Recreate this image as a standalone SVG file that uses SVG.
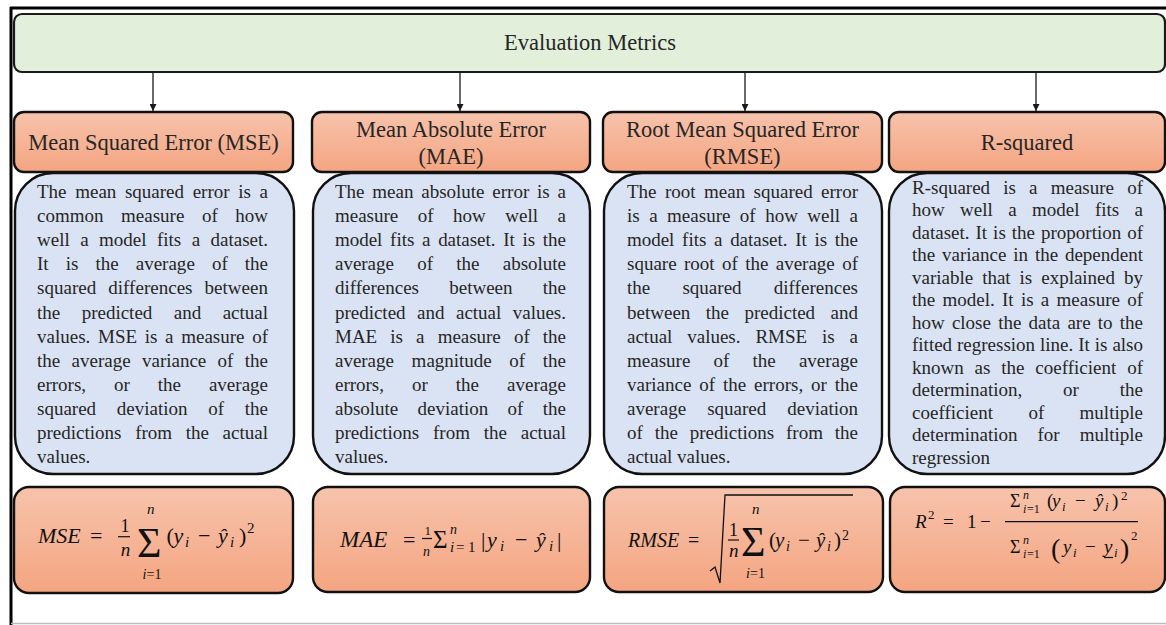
<svg xmlns="http://www.w3.org/2000/svg" width="1166" height="625" viewBox="0 0 1166 625">
<defs>
<linearGradient id="og" x1="0" y1="0" x2="0" y2="1"><stop offset="0" stop-color="#f7c3ac"/><stop offset="1" stop-color="#f4a581"/></linearGradient>
<marker id="ah" viewBox="0 0 8 8" refX="8" refY="4" markerWidth="7" markerHeight="7" markerUnits="userSpaceOnUse" orient="auto"><path d="M0,0 L8,4 L0,8 z" fill="#1a1a1a"/></marker>
</defs>
<style>
.frame{stroke:#000;stroke-width:3;fill:none}
.grn{fill:#e2efda;stroke:#1a1a1a;stroke-width:2.2}
.hdr{fill:url(#og);stroke:#111;stroke-width:2.4}
.body{fill:#dae3f3;stroke:#111;stroke-width:2.4}
.t{font-family:"Liberation Serif","Times New Roman",serif;fill:#262626}
.ht{font-size:22.5px;text-anchor:middle}
.bt{font-size:19px}
.m{font-family:"Liberation Serif","Times New Roman",serif;fill:#111}
.i{font-style:italic}
.conn{stroke:#1a1a1a;stroke-width:1.3;fill:none}
.bar{stroke:#111;stroke-width:1.2}
</style>
<rect width="1166" height="625" fill="#fff"/>
<g id="frame">
<line class="frame" x1="10" y1="8" x2="1166" y2="8"/>
<line class="frame" x1="11" y1="7" x2="11" y2="625"/>
<line x1="11" y1="623.5" x2="1166" y2="623.5" stroke="#bdbdbd" stroke-width="1.5"/>
</g>
<g id="connectors">
<line class="conn" x1="153" y1="72" x2="153" y2="111" marker-end="url(#ah)"/>
<line class="conn" x1="460" y1="72" x2="460" y2="111" marker-end="url(#ah)"/>
<line class="conn" x1="745" y1="72" x2="745" y2="111" marker-end="url(#ah)"/>
<line class="conn" x1="1036" y1="72" x2="1036" y2="111" marker-end="url(#ah)"/>
</g>
<g id="root">
<rect class="grn" x="14" y="14" width="1151" height="58" rx="8"/>
<text class="t ht" x="590" y="50">Evaluation Metrics</text>
</g>
<g id="mse">
<rect class="hdr" x="14" y="112" width="279" height="60" rx="10"/>
<text class="t ht" x="153.5" y="150">Mean Squared Error (MSE)</text>
<rect class="body" x="15" y="173" width="279" height="301" rx="38"/>
<g class="t bt">
<text x="37" y="198" textLength="231" lengthAdjust="spacing" style="word-spacing:3.9px">The mean squared error is a</text>
<text x="37" y="222" textLength="231" lengthAdjust="spacing" style="word-spacing:12.8px">common measure of how</text>
<text x="37" y="246" textLength="231" lengthAdjust="spacing" style="word-spacing:5.7px">well a model fits a dataset.</text>
<text x="37" y="270" textLength="231" lengthAdjust="spacing" style="word-spacing:12.3px">It is the average of the</text>
<text x="37" y="294" textLength="231" lengthAdjust="spacing" style="word-spacing:7.3px">squared differences between</text>
<text x="37" y="318.5" textLength="231" lengthAdjust="spacing" style="word-spacing:16.7px">the predicted and actual</text>
<text x="37" y="342.5" textLength="231" lengthAdjust="spacing" style="word-spacing:2.9px">values. MSE is a measure of</text>
<text x="37" y="366.5" textLength="231" lengthAdjust="spacing" style="word-spacing:6.6px">the average variance of the</text>
<text x="37" y="391" textLength="231" lengthAdjust="spacing" style="word-spacing:23.2px">errors, or the average</text>
<text x="37" y="415" textLength="231" lengthAdjust="spacing" style="word-spacing:16px">squared deviation of the</text>
<text x="37" y="439" textLength="231" lengthAdjust="spacing" style="word-spacing:8.9px">predictions from the actual</text>
<text x="37" y="463">values.</text>
</g>
<rect class="hdr" x="14" y="487" width="279" height="106" rx="15"/>
<line class="bar" x1="118" y1="536.7" x2="130" y2="536.7"/>
<text class="m" y="543" font-size="22"><tspan x="38" class="i">MSE</tspan><tspan x="90">=</tspan><tspan x="120.5" y="532" font-size="18">1</tspan><tspan x="120.7" y="556" font-size="19" class="i">n</tspan><tspan x="137" y="557" font-size="42">Σ</tspan><tspan x="147" y="514" font-size="15" class="i">n</tspan><tspan x="142.5" y="579" font-size="14" class="i">i</tspan><tspan x="146.5" y="579" font-size="14">=1</tspan><tspan x="166.5" y="543">(</tspan><tspan x="173.5" class="i">y</tspan><tspan x="185" y="547" font-size="15" class="i">i</tspan><tspan x="198" y="543">−</tspan><tspan x="218" class="i">ŷ</tspan><tspan x="230" y="547" font-size="15" class="i">i</tspan><tspan x="239" y="543">)</tspan><tspan x="247" y="533" font-size="15">2</tspan></text>
</g>
<g id="mae">
<rect class="hdr" x="312" y="112" width="278" height="60" rx="10"/>
<text class="t ht" x="451" y="137">Mean Absolute Error</text>
<text class="t ht" x="451" y="164">(MAE)</text>
<rect class="body" x="313" y="173" width="277" height="301" rx="38"/>
<g class="t bt">
<text x="335" y="198" textLength="231" lengthAdjust="spacing" style="word-spacing:3.1px">The mean absolute error is a</text>
<text x="335" y="222" textLength="231" lengthAdjust="spacing" style="word-spacing:14.9px">measure of how well a</text>
<text x="335" y="246" textLength="231" lengthAdjust="spacing" style="word-spacing:3px">model fits a dataset. It is the</text>
<text x="335" y="270" textLength="231" lengthAdjust="spacing" style="word-spacing:18.6px">average of the absolute</text>
<text x="335" y="294" textLength="231" lengthAdjust="spacing" style="word-spacing:25.5px">differences between the</text>
<text x="335" y="318.5" textLength="231" lengthAdjust="spacing" style="word-spacing:6.8px">predicted and actual values.</text>
<text x="335" y="342.5" textLength="231" lengthAdjust="spacing" style="word-spacing:8.4px">MAE is a measure of the</text>
<text x="335" y="366.5" textLength="231" lengthAdjust="spacing" style="word-spacing:13px">average magnitude of the</text>
<text x="335" y="391" textLength="231" lengthAdjust="spacing" style="word-spacing:23.4px">errors, or the average</text>
<text x="335" y="415" textLength="231" lengthAdjust="spacing" style="word-spacing:14.7px">absolute deviation of the</text>
<text x="335" y="439" textLength="231" lengthAdjust="spacing" style="word-spacing:9.1px">predictions from the actual</text>
<text x="335" y="463">values.</text>
</g>
<rect class="hdr" x="313" y="487" width="277" height="105" rx="15"/>
<line class="bar" x1="422" y1="538.5" x2="432" y2="538.5" stroke-width="0.9"/>
<text class="m" y="547" font-size="22"><tspan x="340" class="i" font-size="23">MAE</tspan><tspan x="403">=</tspan><tspan x="424.5" y="535" font-size="13">1</tspan><tspan x="423" y="556" font-size="14" class="i">n</tspan><tspan x="433" y="548" font-size="25">Σ</tspan><tspan x="450" y="534" font-size="14" class="i">n</tspan><tspan x="450" y="551.5" font-size="15" class="i">i</tspan><tspan x="456" y="551.5" font-size="15">=</tspan><tspan x="468" y="551.5" font-size="15">1</tspan><tspan x="481" y="547">|</tspan><tspan x="487" class="i">y</tspan><tspan x="500" y="551" font-size="15" class="i">i</tspan><tspan x="515" y="547">−</tspan><tspan x="536" class="i">ŷ</tspan><tspan x="549" y="551" font-size="15" class="i">i</tspan><tspan x="557" y="547">|</tspan></text>
</g>
<g id="rmse">
<rect class="hdr" x="603" y="112" width="279" height="60" rx="10"/>
<text class="t ht" x="742.5" y="137">Root Mean Squared Error</text>
<text class="t ht" x="742.5" y="164">(RMSE)</text>
<rect class="body" x="604" y="173" width="278" height="301" rx="38"/>
<g class="t bt">
<text x="627" y="198" textLength="231" lengthAdjust="spacing" style="word-spacing:3.7px">The root mean squared error</text>
<text x="627" y="222" textLength="231" lengthAdjust="spacing" style="word-spacing:4.7px">is a measure of how well a</text>
<text x="627" y="246" textLength="231" lengthAdjust="spacing" style="word-spacing:3px">model fits a dataset. It is the</text>
<text x="627" y="270" textLength="231" lengthAdjust="spacing" style="word-spacing:2.6px">square root of the average of</text>
<text x="627" y="294" textLength="231" lengthAdjust="spacing" style="word-spacing:27.4px">the squared differences</text>
<text x="627" y="318.5" textLength="231" lengthAdjust="spacing" style="word-spacing:10.7px">between the predicted and</text>
<text x="627" y="342.5" textLength="231" lengthAdjust="spacing" style="word-spacing:10.1px">actual values. RMSE is a</text>
<text x="627" y="366.5" textLength="231" lengthAdjust="spacing" style="word-spacing:18.4px">measure of the average</text>
<text x="627" y="391" textLength="231" lengthAdjust="spacing" style="word-spacing:3.1px">variance of the errors, or the</text>
<text x="627" y="415" textLength="231" lengthAdjust="spacing" style="word-spacing:16.3px">average squared deviation</text>
<text x="627" y="439" textLength="231" lengthAdjust="spacing" style="word-spacing:7.1px">of the predictions from the</text>
<text x="627" y="463">actual values.</text>
</g>
<rect class="hdr" x="604" y="487" width="279" height="105" rx="15"/>
<path d="M710,571 L715,567 L720,583 L725,495 L853,495" fill="none" stroke="#111" stroke-width="1.3"/>
<line class="bar" x1="728" y1="540" x2="739" y2="540"/>
<text class="m" y="547" font-size="20"><tspan x="628" class="i">RMSE</tspan><tspan x="688">=</tspan><tspan x="729" y="536" font-size="18">1</tspan><tspan x="729" y="557" font-size="19" class="i">n</tspan><tspan x="741" y="556" font-size="42">Σ</tspan><tspan x="752" y="514" font-size="15" class="i">n</tspan><tspan x="746" y="578" font-size="14" class="i">i</tspan><tspan x="750" y="578" font-size="14">=1</tspan><tspan x="769" y="547" font-size="21">(</tspan><tspan x="775" font-size="21" class="i">y</tspan><tspan x="786" y="551" font-size="14" class="i">i</tspan><tspan x="798" y="547" font-size="21">−</tspan><tspan x="816" font-size="21" class="i">ŷ</tspan><tspan x="827" y="551" font-size="14" class="i">i</tspan><tspan x="834" y="547" font-size="21">)</tspan><tspan x="842" y="540" font-size="14">2</tspan></text>
</g>
<g id="rsquared">
<rect class="hdr" x="889" y="112" width="276" height="60" rx="10"/>
<text class="t ht" x="1027" y="150">R-squared</text>
<rect class="body" x="889" y="173" width="276" height="301" rx="38"/>
<g class="t bt">
<text x="912" y="193.5" textLength="231" lengthAdjust="spacing" style="word-spacing:8.4px">R-squared is a measure of</text>
<text x="912" y="216" textLength="231" lengthAdjust="spacing" style="word-spacing:10.6px">how well a model fits a</text>
<text x="912" y="238.5" textLength="231" lengthAdjust="spacing" style="word-spacing:1.2px">dataset. It is the proportion of</text>
<text x="912" y="261" textLength="231" lengthAdjust="spacing" style="word-spacing:2.1px">the variance in the dependent</text>
<text x="912" y="283.5" textLength="231" lengthAdjust="spacing" style="word-spacing:4.2px">variable that is explained by</text>
<text x="912" y="306" textLength="231" lengthAdjust="spacing" style="word-spacing:2.5px">the model. It is a measure of</text>
<text x="912" y="328.5" textLength="231" lengthAdjust="spacing" style="word-spacing:2.5px">how close the data are to the</text>
<text x="912" y="351" textLength="231" lengthAdjust="spacing" style="word-spacing:0.2px">fitted regression line. It is also</text>
<text x="912" y="373.5" textLength="231" lengthAdjust="spacing" style="word-spacing:6px">known as the coefficient of</text>
<text x="912" y="396" textLength="231" lengthAdjust="spacing" style="word-spacing:36.1px">determination, or the</text>
<text x="912" y="418.5" textLength="231" lengthAdjust="spacing" style="word-spacing:30.5px">coefficient of multiple</text>
<text x="912" y="441" textLength="231" lengthAdjust="spacing" style="word-spacing:15.2px">determination for multiple</text>
<text x="912" y="463.5">regression</text>
</g>
<rect class="hdr" x="890" y="487" width="275" height="105" rx="15"/>
<line class="bar" x1="1005" y1="521.7" x2="1138" y2="521.7"/>
<line class="bar" x1="1104" y1="557.5" x2="1113" y2="557.5"/>
<text class="m" y="528" font-size="19"><tspan x="915" class="i">R</tspan><tspan x="928" y="519" font-size="13">2</tspan><tspan x="943" y="528">=</tspan><tspan x="967">1</tspan><tspan x="980">−</tspan><tspan x="1010" y="507" font-size="18">Σ</tspan><tspan x="1023" y="498.5" font-size="12" class="i">n</tspan><tspan x="1023" y="513" font-size="12" class="i">i</tspan><tspan x="1027" y="513" font-size="12">=1</tspan><tspan x="1047" y="507">(</tspan><tspan x="1052" class="i">y</tspan><tspan x="1062" y="511" font-size="13" class="i">i</tspan><tspan x="1075" y="507">−</tspan><tspan x="1095" class="i">ŷ</tspan><tspan x="1105" y="511" font-size="13" class="i">i</tspan><tspan x="1112" y="507">)</tspan><tspan x="1121" y="500" font-size="13">2</tspan><tspan x="1010" y="553" font-size="18">Σ</tspan><tspan x="1023" y="544" font-size="12" class="i">n</tspan><tspan x="1023" y="558" font-size="12" class="i">i</tspan><tspan x="1027" y="558" font-size="12">=1</tspan><tspan x="1051" y="558" font-size="28">(</tspan><tspan x="1063" y="553" class="i">y</tspan><tspan x="1073" y="557" font-size="13" class="i">i</tspan><tspan x="1085" y="553">−</tspan><tspan x="1104" class="i">y</tspan><tspan x="1114" y="557" font-size="13" class="i">i</tspan><tspan x="1120" y="558" font-size="28">)</tspan><tspan x="1131" y="540" font-size="13">2</tspan></text>
</g>
</svg>
